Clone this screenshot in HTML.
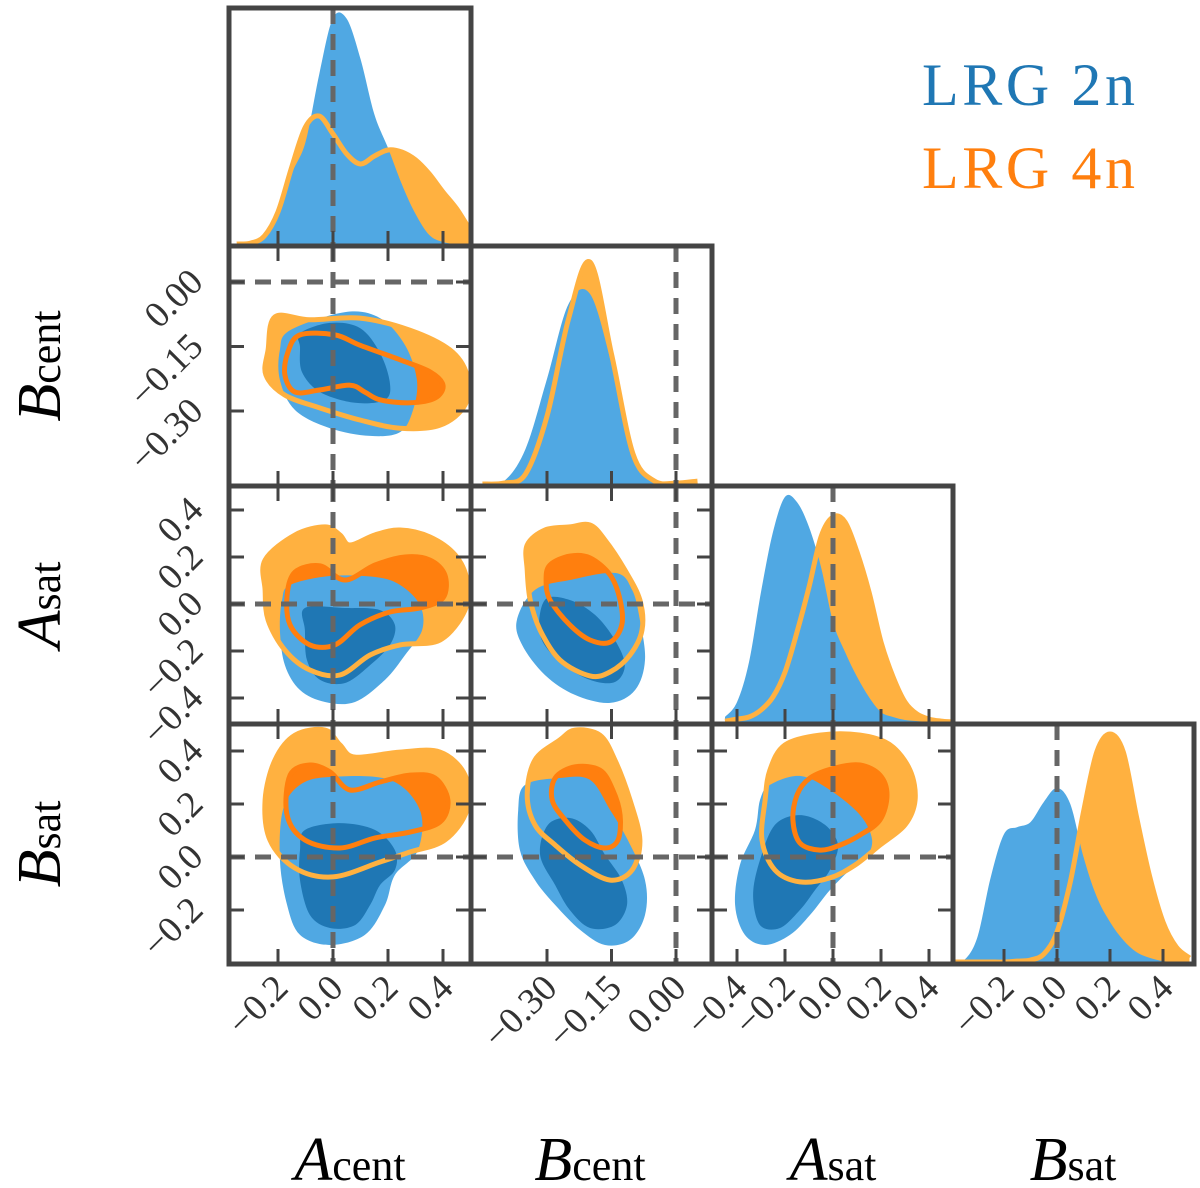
<!DOCTYPE html>
<html><head><meta charset="utf-8"><style>
html,body{margin:0;padding:0;background:#fff;}
svg{display:block;}
text{font-family:"Liberation Serif",serif;}
</style></head><body>
<svg id="chart" width="1200" height="1188" viewBox="0 0 1200 1188" xmlns="http://www.w3.org/2000/svg">
<defs id="defs"></defs>
<g id="root"></g>
</svg>
<script>
// ---- data ----
const paramNames = ["Acent","Bcent","Asat","Bsat"];
const truthValues = [0,0,0,0];
const ticksAcent = [-0.2,0.0,0.2,0.4];
const ticksBcent = [-0.30,-0.15,0.00];
const ticksAsat = [-0.4,-0.2,0.0,0.2,0.4];
const ticksBsat = [-0.2,0.0,0.2,0.4];
const tickLabelsAcent = ["\u22120.2","0.0","0.2","0.4"];
const tickLabelsBcent = ["\u22120.30","\u22120.15","0.00"];
const tickLabelsAsat = ["\u22120.4","\u22120.2","0.0","0.2","0.4"];
const tickLabelsBsat = ["\u22120.2","0.0","0.2","0.4"];
const seriesNames = ["LRG 2n","LRG 4n"];

// 1D marginal densities (grid values, relative density)
const gridAcent = [-0.35,-0.3,-0.25,-0.2,-0.15,-0.1,-0.05,0,0.05,0.1,0.15,0.2,0.25,0.3,0.35,0.4,0.45,0.5];
const densAcent2n = [0,0.004,0.022,0.119,0.31,0.451,0.752,1,0.996,0.819,0.575,0.425,0.265,0.133,0.04,0.009,0,0];
const densAcent4n = [0,0.004,0.035,0.142,0.341,0.518,0.566,0.487,0.398,0.354,0.389,0.416,0.407,0.372,0.31,0.23,0.155,0.058];
const gridBcent = [-0.45,-0.4,-0.35,-0.3,-0.25,-0.2,-0.15,-0.1,-0.05,0,0.05];
const densBcent2n = [0,0.013,0.155,0.465,0.796,0.841,0.531,0.119,0.013,0,0];
const densBcent4n = [0,0.004,0.044,0.3,0.73,0.982,0.575,0.133,0.013,0.004,0.013];
const gridAsat = [-0.45,-0.4,-0.35,-0.3,-0.25,-0.2,-0.15,-0.1,-0.05,0,0.05,0.1,0.15,0.2,0.25,0.3,0.35,0.4,0.45,0.5];
const densAsat2n = [0.022,0.088,0.265,0.575,0.841,0.996,0.973,0.863,0.686,0.442,0.31,0.2,0.11,0.044,0.022,0.009,0.004,0,0,0];
const densAsat4n = [0.004,0.013,0.022,0.053,0.111,0.221,0.398,0.597,0.819,0.907,0.885,0.752,0.575,0.354,0.2,0.088,0.035,0.013,0.004,0];
const gridBsat = [-0.4,-0.35,-0.3,-0.25,-0.2,-0.15,-0.1,-0.05,0,0.05,0.1,0.15,0.2,0.25,0.3,0.35,0.4,0.45,0.5];
const densBsat2n = [0,0.009,0.111,0.376,0.566,0.597,0.619,0.708,0.77,0.699,0.465,0.288,0.177,0.097,0.044,0.018,0.004,0,0];
const densBsat4n = [0,0,0,0,0,0.004,0.009,0.035,0.133,0.354,0.664,0.929,1.009,0.929,0.642,0.376,0.177,0.066,0.018];

// 2D credible contours (data coordinates [x,y])
const c_Acent_Bcent_2n_outer = [[-0.156,-0.112],[0.044,-0.070],[0.171,-0.084],[0.262,-0.147],[0.305,-0.228],[0.291,-0.298],[0.244,-0.349],[0.135,-0.358],[-0.011,-0.340],[-0.138,-0.298],[-0.193,-0.228],[-0.193,-0.158]];
const c_Acent_Bcent_2n_inner = [[-0.12,-0.119],[-0.011,-0.095],[0.098,-0.107],[0.171,-0.165],[0.207,-0.235],[0.189,-0.274],[0.08,-0.281],[-0.047,-0.256],[-0.113,-0.209],[-0.12,-0.151]];
const c_Acent_Bcent_4n_outer = [[-0.211,-0.081],[-0.084,-0.088],[0.098,-0.084],[0.28,-0.112],[0.425,-0.158],[0.487,-0.216],[0.48,-0.286],[0.389,-0.333],[0.244,-0.340],[0.098,-0.321],[-0.047,-0.293],[-0.175,-0.263],[-0.244,-0.216],[-0.236,-0.158]];
const c_Acent_Bcent_4n_inner = [[-0.12,-0.123],[0.007,-0.123],[0.098,-0.147],[0.244,-0.181],[0.353,-0.209],[0.4,-0.240],[0.371,-0.270],[0.28,-0.281],[0.171,-0.274],[0.116,-0.256],[0.062,-0.240],[-0.047,-0.251],[-0.138,-0.256],[-0.175,-0.216],[-0.164,-0.163]];

const c_Acent_Asat_2n_outer = [[-0.156,0.081],[-0.011,0.119],[0.153,0.115],[0.244,0.081],[0.316,-0.004],[0.324,-0.111],[0.262,-0.217],[0.189,-0.323],[0.08,-0.417],[-0.029,-0.417],[-0.12,-0.366],[-0.175,-0.260],[-0.193,-0.111],[-0.185,0.017]];
const c_Acent_Asat_2n_inner = [[-0.102,-0.017],[0.044,-0.017],[0.171,-0.026],[0.225,-0.089],[0.207,-0.174],[0.135,-0.260],[0.044,-0.336],[-0.047,-0.323],[-0.095,-0.238],[-0.102,-0.111]];
const c_Acent_Asat_4n_outer = [[-0.247,0.187],[-0.138,0.294],[-0.029,0.328],[0.025,0.294],[0.062,0.251],[0.153,0.294],[0.244,0.315],[0.353,0.285],[0.444,0.209],[0.487,0.102],[0.48,-0.026],[0.389,-0.153],[0.244,-0.174],[0.135,-0.217],[0.025,-0.302],[-0.084,-0.281],[-0.175,-0.196],[-0.236,-0.068],[-0.247,0.06]];
const c_Acent_Asat_4n_inner = [[-0.138,0.136],[-0.047,0.162],[0.044,0.102],[0.153,0.166],[0.262,0.200],[0.353,0.187],[0.407,0.123],[0.4,0.026],[0.316,-0.017],[0.207,-0.034],[0.098,-0.089],[0.007,-0.174],[-0.084,-0.174],[-0.156,-0.089],[-0.167,0.038]];

const c_Acent_Bsat_2n_outer = [[-0.011,0.302],[0.207,0.291],[0.316,0.177],[0.309,0.026],[0.225,-0.068],[0.189,-0.181],[0.116,-0.294],[-0.011,-0.332],[-0.12,-0.294],[-0.167,-0.181],[-0.193,-0.011],[-0.182,0.177],[-0.12,0.272]];
const c_Acent_Bsat_2n_inner = [[-0.102,0.102],[0.025,0.128],[0.153,0.102],[0.225,0.026],[0.225,-0.049],[0.171,-0.106],[0.135,-0.181],[0.08,-0.257],[-0.011,-0.268],[-0.084,-0.219],[-0.12,-0.087],[-0.12,0.026]];
const c_Acent_Bsat_4n_outer = [[-0.211,0.366],[-0.138,0.460],[-0.029,0.479],[0.025,0.423],[0.080,0.377],[0.244,0.396],[0.389,0.396],[0.48,0.309],[0.487,0.177],[0.407,0.064],[0.280,0.019],[0.171,-0.019],[0.0,-0.075],[-0.138,-0.042],[-0.229,0.064],[-0.247,0.215]];
const c_Acent_Bsat_4n_inner = [[-0.156,0.309],[-0.084,0.347],[-0.011,0.321],[0.062,0.253],[0.171,0.283],[0.28,0.309],[0.371,0.298],[0.418,0.215],[0.389,0.132],[0.28,0.094],[0.153,0.072],[0.025,0.034],[-0.102,0.064],[-0.167,0.158]];

const c_Bcent_Asat_2n_outer = [[-0.328,0.060],[-0.247,0.102],[-0.14,0.132],[-0.102,0.060],[-0.084,-0.068],[-0.072,-0.238],[-0.095,-0.366],[-0.153,-0.421],[-0.235,-0.387],[-0.305,-0.302],[-0.358,-0.174],[-0.370,-0.068]];
const c_Bcent_Asat_2n_inner = [[-0.305,0.017],[-0.247,0.017],[-0.188,-0.047],[-0.142,-0.153],[-0.119,-0.260],[-0.142,-0.332],[-0.2,-0.323],[-0.270,-0.247],[-0.316,-0.132]];
const c_Bcent_Asat_4n_outer = [[-0.346,0.251],[-0.305,0.315],[-0.247,0.328],[-0.2,0.336],[-0.165,0.272],[-0.119,0.145],[-0.084,0.017],[-0.079,-0.111],[-0.107,-0.217],[-0.153,-0.289],[-0.2,-0.306],[-0.270,-0.238],[-0.316,-0.111],[-0.339,0.017],[-0.346,0.145]];
const c_Bcent_Asat_4n_inner = [[-0.293,0.166],[-0.247,0.204],[-0.2,0.196],[-0.153,0.123],[-0.130,0.017],[-0.126,-0.089],[-0.153,-0.162],[-0.2,-0.153],[-0.247,-0.089],[-0.293,0.017],[-0.302,0.102]];

const c_Bcent_Bsat_2n_outer = [[-0.351,0.272],[-0.270,0.298],[-0.2,0.291],[-0.153,0.177],[-0.112,0.064],[-0.072,-0.087],[-0.072,-0.219],[-0.107,-0.313],[-0.165,-0.332],[-0.223,-0.275],[-0.281,-0.181],[-0.328,-0.087],[-0.363,0.026],[-0.367,0.177]];
const c_Bcent_Bsat_2n_inner = [[-0.298,0.121],[-0.247,0.147],[-0.2,0.102],[-0.165,0.008],[-0.126,-0.087],[-0.114,-0.181],[-0.142,-0.257],[-0.2,-0.268],[-0.247,-0.2],[-0.281,-0.106],[-0.316,0.008]];
const c_Bcent_Bsat_4n_outer = [[-0.328,0.366],[-0.270,0.442],[-0.235,0.479],[-0.177,0.460],[-0.142,0.366],[-0.107,0.215],[-0.084,0.064],[-0.102,-0.049],[-0.153,-0.087],[-0.223,-0.030],[-0.281,0.045],[-0.328,0.121],[-0.346,0.234]];
const c_Bcent_Bsat_4n_inner = [[-0.281,0.298],[-0.235,0.340],[-0.177,0.328],[-0.147,0.253],[-0.130,0.158],[-0.135,0.064],[-0.165,0.034],[-0.212,0.064],[-0.258,0.140],[-0.288,0.215]];

const c_Asat_Bsat_2n_outer = [[-0.263,0.272],[-0.138,0.306],[-0.013,0.253],[0.113,0.158],[0.163,0.064],[0.133,-0.011],[0.071,-0.049],[-0.013,-0.125],[-0.096,-0.219],[-0.179,-0.294],[-0.283,-0.332],[-0.367,-0.294],[-0.408,-0.181],[-0.388,-0.030],[-0.325,0.102],[-0.304,0.215]];
const c_Asat_Bsat_2n_inner = [[-0.242,0.121],[-0.138,0.158],[-0.033,0.121],[0.021,0.045],[-0.013,-0.049],[-0.075,-0.125],[-0.138,-0.2],[-0.221,-0.268],[-0.304,-0.257],[-0.333,-0.143],[-0.304,-0.011]];
const c_Asat_Bsat_4n_outer = [[-0.2,0.423],[-0.054,0.460],[0.113,0.460],[0.238,0.423],[0.321,0.328],[0.342,0.215],[0.3,0.121],[0.196,0.045],[0.092,-0.030],[-0.013,-0.079],[-0.138,-0.094],[-0.242,-0.049],[-0.296,0.064],[-0.283,0.215],[-0.263,0.328]];
const c_Asat_Bsat_4n_inner = [[-0.096,0.298],[0.008,0.336],[0.113,0.347],[0.196,0.309],[0.225,0.234],[0.196,0.140],[0.113,0.083],[0.029,0.045],[-0.054,0.026],[-0.138,0.053],[-0.167,0.140],[-0.15,0.234]];

// ---- layout ----
const NS = "http://www.w3.org/2000/svg";
const edgesX = [229,471,712,953,1194];
const edgesY = [8,246,486,724,964];
const xScaleDef = [[333,275],[676,430],[833,240],[1057,265]];
const yScaleDef = [null,[282,430],[604,235],[857,265]];
const xs = (i,v)=>xScaleDef[i][0]+xScaleDef[i][1]*v;
const ys = (j,v)=>yScaleDef[j][0]-yScaleDef[j][1]*v;
const tickSets = [ticksAcent,ticksBcent,ticksAsat,ticksBsat];
const tickLabelSets = [tickLabelsAcent,tickLabelsBcent,tickLabelsAsat,tickLabelsBsat];
const densGrids = [gridAcent,gridBcent,gridAsat,gridBsat];
const dens2n = [densAcent2n,densBcent2n,densAsat2n,densBsat2n];
const dens4n = [densAcent4n,densBcent4n,densAsat4n,densBsat4n];
const contours = {
 "0-1":[c_Acent_Bcent_2n_outer,c_Acent_Bcent_2n_inner,c_Acent_Bcent_4n_outer,c_Acent_Bcent_4n_inner],
 "0-2":[c_Acent_Asat_2n_outer,c_Acent_Asat_2n_inner,c_Acent_Asat_4n_outer,c_Acent_Asat_4n_inner],
 "0-3":[c_Acent_Bsat_2n_outer,c_Acent_Bsat_2n_inner,c_Acent_Bsat_4n_outer,c_Acent_Bsat_4n_inner],
 "1-2":[c_Bcent_Asat_2n_outer,c_Bcent_Asat_2n_inner,c_Bcent_Asat_4n_outer,c_Bcent_Asat_4n_inner],
 "1-3":[c_Bcent_Bsat_2n_outer,c_Bcent_Bsat_2n_inner,c_Bcent_Bsat_4n_outer,c_Bcent_Bsat_4n_inner],
 "2-3":[c_Asat_Bsat_2n_outer,c_Asat_Bsat_2n_inner,c_Asat_Bsat_4n_outer,c_Asat_Bsat_4n_inner]
};
const BL="#50a8e3", BD="#1f77b4", OL="#ffb140", OD="#ff7f0e", FR="#444", DG="#666";
const densPx = 226;

const root = document.getElementById("root");
const defs = document.getElementById("defs");
function mk(tag, attrs, parent){
  const e = document.createElementNS(NS, tag);
  for (const k in attrs) e.setAttribute(k, attrs[k]);
  (parent||root).appendChild(e);
  return e;
}
function smoothClosed(pts){
  const n=pts.length; let d="M"+pts[0][0].toFixed(1)+","+pts[0][1].toFixed(1);
  for(let i=0;i<n;i++){
    const p0=pts[(i-1+n)%n],p1=pts[i],p2=pts[(i+1)%n],p3=pts[(i+2)%n];
    const c1=[p1[0]+(p2[0]-p0[0])/6,p1[1]+(p2[1]-p0[1])/6];
    const c2=[p2[0]-(p3[0]-p1[0])/6,p2[1]-(p3[1]-p1[1])/6];
    d+="C"+c1[0].toFixed(1)+","+c1[1].toFixed(1)+" "+c2[0].toFixed(1)+","+c2[1].toFixed(1)+" "+p2[0].toFixed(1)+","+p2[1].toFixed(1);
  }
  return d+"Z";
}
function smoothOpen(pts){
  let d="M"+pts[0][0].toFixed(1)+","+pts[0][1].toFixed(1);
  for(let i=0;i<pts.length-1;i++){
    const p0=pts[Math.max(i-1,0)],p1=pts[i],p2=pts[i+1],p3=pts[Math.min(i+2,pts.length-1)];
    const c1=[p1[0]+(p2[0]-p0[0])/6,p1[1]+(p2[1]-p0[1])/6];
    const c2=[p2[0]-(p3[0]-p1[0])/6,p2[1]-(p3[1]-p1[1])/6];
    d+="C"+c1[0].toFixed(1)+","+c1[1].toFixed(1)+" "+c2[0].toFixed(1)+","+c2[1].toFixed(1)+" "+p2[0].toFixed(1)+","+p2[1].toFixed(1);
  }
  return d;
}

for (let row=0; row<4; row++){
  for (let col=0; col<=row; col++){
    const x0=edgesX[col], x1=edgesX[col+1], y0=edgesY[row], y1=edgesY[row+1];
    const cid="clip"+row+col;
    const cp=mk("clipPath",{id:cid},defs);
    mk("rect",{x:x0,y:y0,width:x1-x0,height:y1-y0},cp);
    const g=mk("g",{"clip-path":"url(#"+cid+")"});
    
    
    const ticks=tickSets[col];
    if (row===col){
      const grid=densGrids[col], base=y1-2;
      const mkArea=(arr)=>{
        const pts=grid.map((v,k)=>[xs(col,v), base-arr[k]*densPx]);
        return smoothOpen(pts)+"L"+pts[pts.length-1][0]+","+(base+4)+"L"+pts[0][0]+","+(base+4)+"Z";
      };
      const a4=mk("path",{d:mkArea(dens4n[col]),fill:OL},g);
      
      
      const a2=mk("path",{d:mkArea(dens2n[col]),fill:BL},g);
      
      
      const l4=mk("path",{d:smoothOpen(grid.map((v,k)=>[xs(col,v), base-dens4n[col][k]*densPx])),fill:"none",stroke:OL,"stroke-width":5},g);
      
      
      const tx=xs(col,truthValues[col]);
      const tl=mk("line",{x1:tx,x2:tx,y1:y0,y2:y1,stroke:DG,"stroke-width":5,"stroke-dasharray":"16 10"},g);
      
      
      ticks.forEach(t=>{const x=xs(col,t);
        const tk=mk("line",{x1:x,x2:x,y1:y1,y2:y1-15,stroke:FR,"stroke-width":3},g);
        
        });
    } else {
      const cs=contours[col+"-"+row];
      const toPx=(pts)=>pts.map(p=>[xs(col,p[0]),ys(row,p[1])]);
      const names=["lrg2n-outer","lrg2n-inner","lrg4n-outer","lrg4n-inner"];
      const order=[[2,OL],[3,OD],[0,BL],[1,BD]];
      order.forEach(([k,c])=>{
        const p=mk("path",{d:smoothClosed(toPx(cs[k])),fill:c},g);
        
        
      });
      const lo=mk("path",{d:smoothClosed(toPx(cs[2])),fill:"none",stroke:OL,"stroke-width":5},g);
      
      
      const li=mk("path",{d:smoothClosed(toPx(cs[3])),fill:"none",stroke:OD,"stroke-width":5},g);
      
      
      const tx=xs(col,truthValues[col]), ty=ys(row,truthValues[row]);
      const tv=mk("line",{x1:tx,x2:tx,y1:y0,y2:y1,stroke:DG,"stroke-width":5,"stroke-dasharray":"16 10"},g);
      
      
      const th=mk("line",{x1:x0,x2:x1,y1:ty,y2:ty,stroke:DG,"stroke-width":5,"stroke-dasharray":"16 10"},g);
      
      
      ticks.forEach(t=>{const x=xs(col,t);
        const a=mk("line",{x1:x,x2:x,y1:y1,y2:y1-15,stroke:FR,"stroke-width":3},g);
        
        
        const b=mk("line",{x1:x,x2:x,y1:y0,y2:y0+15,stroke:FR,"stroke-width":3},g);
        
        });
      tickSets[row].forEach(t=>{const y=ys(row,t);
        const a=mk("line",{x1:x0,x2:x0+15,y1:y,y2:y,stroke:FR,"stroke-width":3},g);
        
        
        const b=mk("line",{x1:x1,x2:x1-15,y1:y,y2:y,stroke:FR,"stroke-width":3},g);
        
        });
    }
    const fr=mk("rect",{x:x0,y:y0,width:x1-x0,height:y1-y0,fill:"none",stroke:FR,"stroke-width":5});
    
    
  }
}

// bottom tick labels
for (let col=0; col<4; col++){
  tickSets[col].forEach((t,k)=>{
    const x=xs(col,t)+12, y=990;
    const tt=mk("text",{x:x,y:y,"font-size":37,fill:"#333","text-anchor":"end",transform:"rotate(-45 "+x+" "+y+")"});
    tt.textContent=tickLabelSets[col][k];
    
    
  });
}
// left tick labels
for (let row=1; row<4; row++){
  tickSets[row].forEach((t,k)=>{
    const x=205, y=ys(row,t)+2;
    const tt=mk("text",{x:x,y:y,"font-size":37,fill:"#333","text-anchor":"end",transform:"rotate(-45 "+x+" "+y+")"});
    tt.textContent=tickLabelSets[row][k];
    
    
  });
}
// axis titles
const mainLetters=["A","B","A","B"], subs=["cent","cent","sat","sat"];
const xCenters=[350,590,833,1073];
for (let col=0; col<4; col++){
  const t=mk("text",{x:xCenters[col],y:1180,"font-size":62,fill:"#000","text-anchor":"middle"});
  
  
  t.innerHTML='<tspan font-style="italic">'+mainLetters[col]+'</tspan><tspan font-size="44">'+subs[col]+'</tspan>';
}
for (let row=1; row<4; row++){
  const cy=(edgesY[row]+edgesY[row+1])/2, cx=60;
  const t=mk("text",{x:cx,y:cy,"font-size":62,fill:"#000","text-anchor":"middle",transform:"rotate(-90 "+cx+" "+cy+")"});
  
  
  t.innerHTML='<tspan font-style="italic">'+mainLetters[row]+'</tspan><tspan font-size="44">'+subs[row]+'</tspan>';
}
// legend
const lg1=mk("text",{x:922,y:105,"font-size":60,fill:BD,textLength:213});
lg1.textContent=seriesNames[0];


const lg2=mk("text",{x:922,y:188,"font-size":60,fill:OD,textLength:213});
lg2.textContent=seriesNames[1];


</script>
</body></html>
